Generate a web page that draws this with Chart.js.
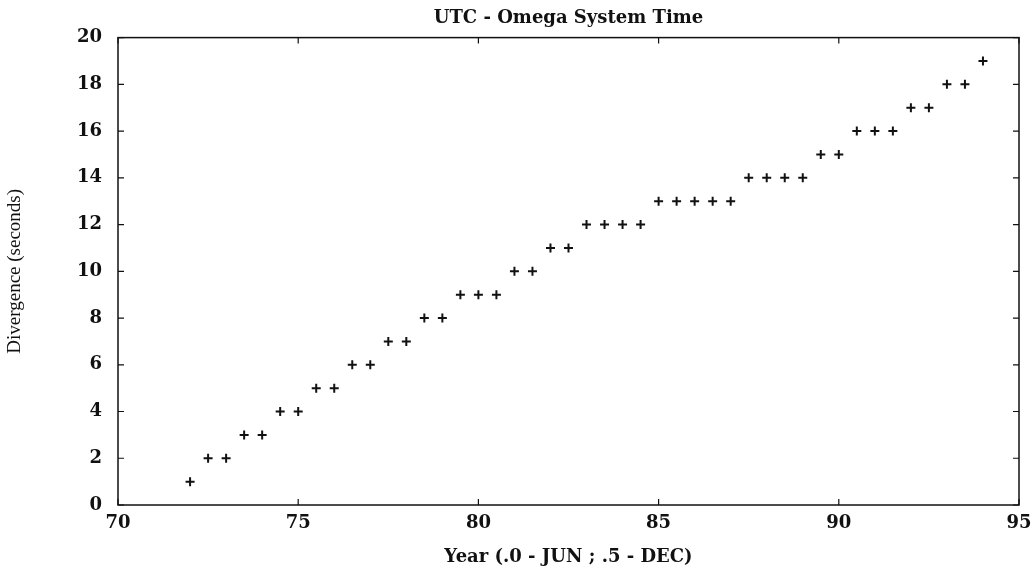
<!DOCTYPE html>
<html>
<head>
<meta charset="utf-8">
<script src="https://cdn.jsdelivr.net/npm/chart.js@4"></script>
<style>
  body { margin: 0; background: #fff; }
  #wrap { width: 1036px; height: 572px; }
</style>
</head>
<body>
<div id="wrap"><canvas id="grafico" width="1036" height="572"></canvas></div>
<script>
// anos (.0 = junho, .5 = dezembro)
const anos = [72, 72.5, 73, 73.5, 74, 74.5, 75, 75.5, 76, 76.5, 77, 77.5, 78, 78.5, 79, 79.5, 80, 80.5,
  81, 81.5, 82, 82.5, 83, 83.5, 84, 84.5, 85, 85.5, 86, 86.5, 87, 87.5, 88, 88.5, 89, 89.5, 90, 90.5,
  91, 91.5, 92, 92.5, 93, 93.5, 94];
// divergencia em segundos
const divergencia = [1, 2, 2, 3, 3, 4, 4, 5, 5, 6, 6, 7, 7, 8, 8, 9, 9, 9,
  10, 10, 11, 11, 12, 12, 12, 12, 13, 13, 13, 13, 13, 14, 14, 14, 14, 15, 15, 16,
  16, 16, 17, 17, 18, 18, 19];

const tituloGrafico = "UTC - Omega System Time";
const tituloX = "Year (.0 - JUN ; .5 - DEC)";
const tituloY = "Divergence (seconds)";

let pontos = [];
for (let i = 0; i < anos.length; i++) {
  pontos.push({ x: anos[i], y: divergencia[i] });
}

const fonteSerif = "'DejaVu Serif', 'Liberation Serif', serif";
const fonteEstreita = "'Liberation Serif', serif";

// moldura + tracinhos para dentro
const moldura = {
  id: "moldura",
  afterDraw(chart) {
    const ctx = chart.ctx;
    const a = chart.chartArea;
    const sx = chart.scales.x;
    const sy = chart.scales.y;
    ctx.save();
    ctx.strokeStyle = "#111";
    ctx.lineWidth = 1.5;
    ctx.strokeRect(a.left, a.top, a.right - a.left, a.bottom - a.top);
    ctx.lineWidth = 1.2;
    sx.ticks.forEach(function (t) {
      const px = sx.getPixelForValue(t.value);
      ctx.beginPath();
      ctx.moveTo(px, a.bottom); ctx.lineTo(px, a.bottom - 6);
      ctx.moveTo(px, a.top); ctx.lineTo(px, a.top + 6);
      ctx.stroke();
    });
    sy.ticks.forEach(function (t) {
      const py = sy.getPixelForValue(t.value);
      ctx.beginPath();
      ctx.moveTo(a.left, py); ctx.lineTo(a.left + 6, py);
      ctx.moveTo(a.right, py); ctx.lineTo(a.right - 6, py);
      ctx.stroke();
    });
    ctx.restore();
  }
};

new Chart(document.getElementById("grafico"), {
  type: "scatter",
  data: {
    datasets: [{
      data: pontos,
      pointStyle: "cross",
      pointRadius: 4.5,
      pointBorderWidth: 2,
      borderColor: "#111",
      backgroundColor: "#111",
    }],
  },
  options: {
    responsive: false,
    animation: false,
    layout: { padding: { left: 0, right: 17, top: 0, bottom: 0 } },
    plugins: {
      legend: { display: false },
      tooltip: { enabled: false },
      title: {
        display: true,
        fullSize: false,
        text: tituloGrafico,
        color: "#111",
        font: { family: fonteSerif, size: 18, weight: "bold", lineHeight: 1.2 },
        padding: { top: 8, bottom: 8 },
      },
    },
    scales: {
      x: {
        type: "linear",
        min: 70,
        max: 95,
        grid: { display: false },
        border: { display: false },
        ticks: {
          stepSize: 5,
          color: "#111",
          padding: 0,
          font: { family: fonteSerif, size: 18, weight: "bold" },
        },
        title: {
          display: true,
          text: tituloX,
          color: "#111",
          font: { family: fonteSerif, size: 18, weight: "bold" },
          padding: { top: 15 },
        },
        afterFit: function (s) { s.height = 67; },
      },
      y: {
        min: 0,
        max: 20,
        grid: { display: false },
        border: { display: false },
        ticks: {
          stepSize: 2,
          color: "#111",
          padding: 8,
          font: { family: fonteSerif, size: 18, weight: "bold" },
        },
        title: {
          display: true,
          text: tituloY,
          color: "#111",
          font: { family: fonteEstreita, size: 19 },
          padding: { bottom: 0 },
        },
        afterFit: function (s) { s.width = 118; },
      },
    },
  },
  plugins: [moldura],
});
</script>
</body>
</html>
